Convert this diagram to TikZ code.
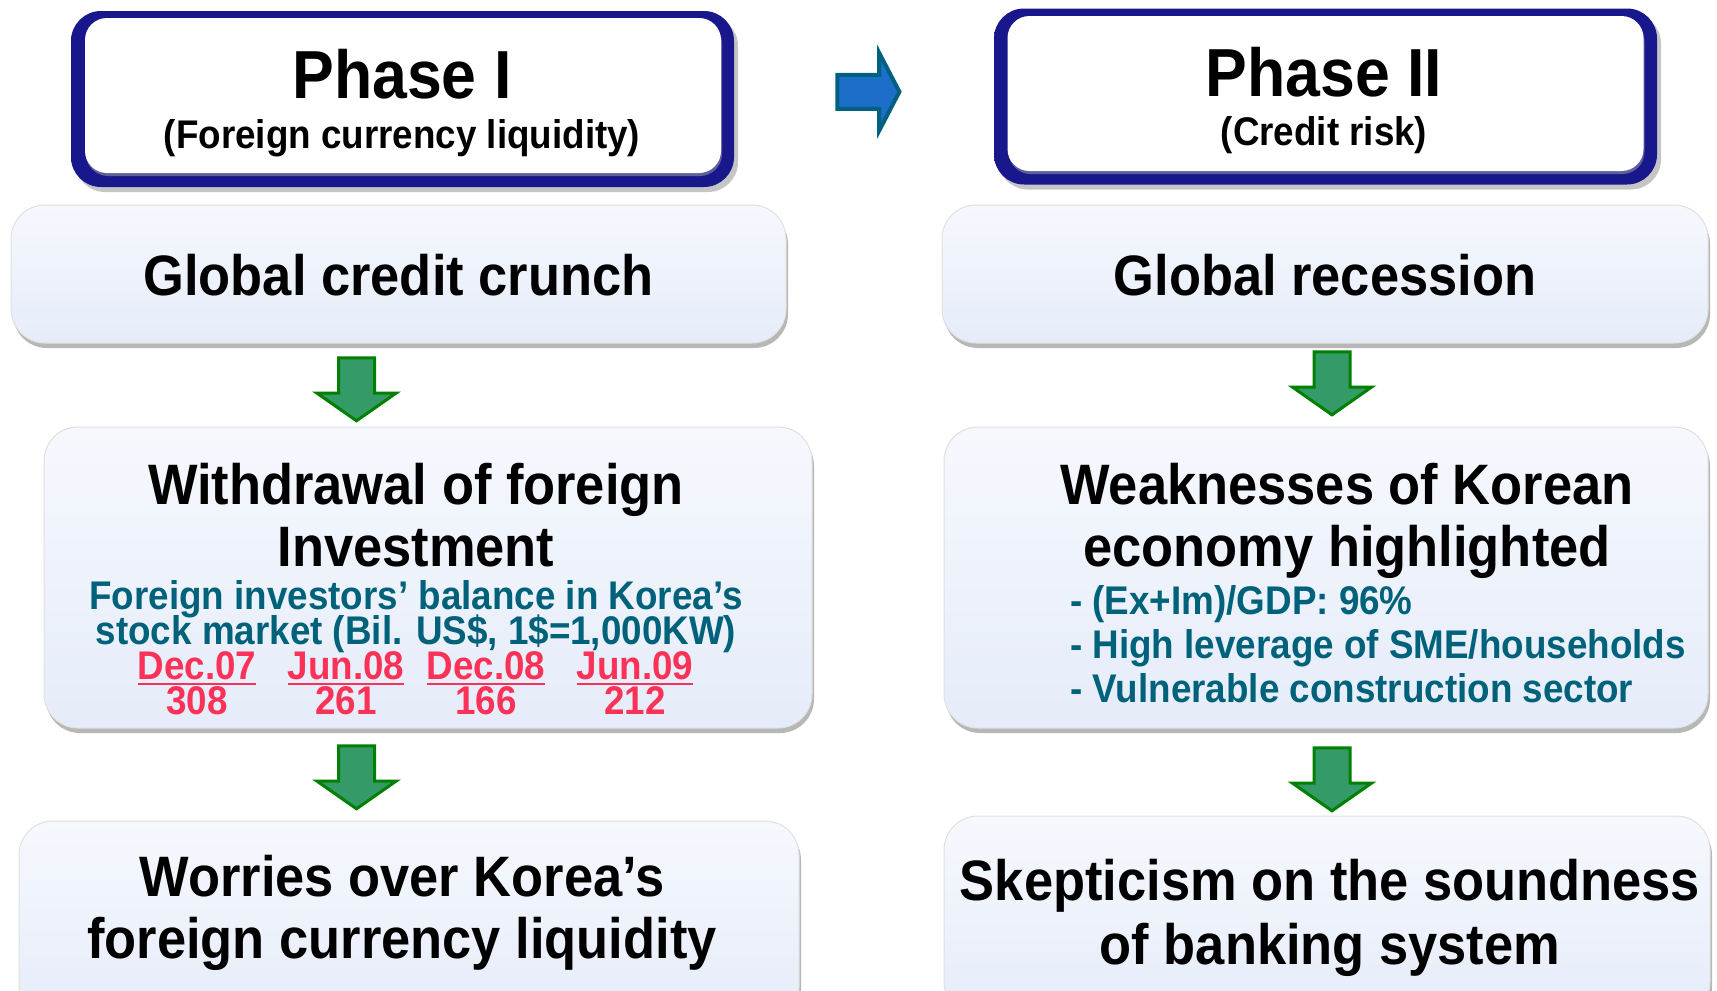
\documentclass[tikz,border=0pt]{standalone}
\usepackage{fontspec}
\setmainfont{Liberation Sans}[FakeStretch=0.92]
\usetikzlibrary{positioning, shapes.arrows, shadows, calc}

\definecolor{headnavy}{RGB}{24,24,140}
\definecolor{headlav}{RGB}{214,214,244}
\definecolor{boxtop}{RGB}{246,248,253}
\definecolor{boxblue}{RGB}{229,236,249}
\definecolor{noteteal}{RGB}{0,98,122}
\definecolor{datered}{RGB}{250,50,88}
\definecolor{flowgreen}{RGB}{0,128,0}
\definecolor{flowfill}{RGB}{52,154,104}
\definecolor{nextblue}{RGB}{28,110,200}
\definecolor{nextrim}{RGB}{0,96,128}

\newcommand{\dateline}[1]{\setbox0=\hbox{#1}\rlap{\rule[-6pt]{\wd0}{2.5pt}}\box0}

\begin{document}
\begin{tikzpicture}[
    x=1pt, y=-1pt,
    headframe/.style={rectangle, rounded corners=30pt, top color=headnavy, middle color=headlav, bottom color=headnavy, minimum width=663pt, minimum height=176pt, drop shadow={shadow xshift=4pt, shadow yshift=-5pt, fill=black!45}},
    headpanel/.style={rectangle, rounded corners=22pt, fill=white, minimum width=636pt, minimum height=155pt, drop shadow={shadow xshift=1pt, shadow yshift=-3pt, fill=black!35}},
    stagebox/.style={rectangle, rounded corners=34pt, top color=boxtop, bottom color=boxblue, draw=black!12, line width=1pt, drop shadow={shadow xshift=2pt, shadow yshift=-5pt, fill=black!40, opacity=0.7}},
    downflow/.style={single arrow, shape border rotate=270, draw=flowgreen, fill=flowfill, line width=3pt, inner sep=16.5pt, minimum width=76pt, minimum height=63pt, single arrow head extend=21.5pt, single arrow tip angle=110},
    nextflow/.style={single arrow, draw=nextrim, fill=nextblue, line width=4pt, inner sep=15pt, minimum width=74pt, minimum height=62pt, single arrow head extend=22pt, single arrow tip angle=125},
    txt/.style={anchor=base, inner sep=0pt},
    phasefont/.style={font=\fontsize{68}{72}\selectfont\bfseries},
    subfont/.style={font=\fontsize{40}{44}\selectfont\bfseries},
    bigfont/.style={font=\fontsize{57}{62}\selectfont\bfseries},
    notefont/.style={font=\fontsize{40}{44}\selectfont\bfseries, text=noteteal},
    datefont/.style={font=\fontsize{40}{44}\selectfont\bfseries, text=datered}
]
    \useasboundingbox (0,0) rectangle (1717,991);
    \clip (0,0) rectangle (1717,991);

    % phase headers
    \node[headframe] (phaseA) at (402.5,99) {};
    \node[headpanel] (phaseApanel) at (403,95.5) {};
    \node[txt, phasefont] (phaseAname) at (402,98) {Phase I};
    \node[txt, subfont] (phaseAsub) at (402,148) {(Foreign currency liquidity)};

    \node[headframe] (phaseB) at (1325.5,96.5) {};
    \node[headpanel] (phaseBpanel) at (1325.5,93.5) {};
    \node[txt, phasefont] (phaseBname) at (1324,96) {Phase II};
    \node[txt, subfont] (phaseBsub) at (1324,145) {(Credit risk)};

    \node[nextflow, yshift=6pt] (phaseshift) at ($(phaseA.east)!0.5!(phaseB.west)$) {};

    % phase I column
    \node[stagebox, bigfont, text height=44pt, minimum width=775pt, minimum height=138pt] (crunch) at (398.5,274) {Global credit crunch};
    \node[stagebox, minimum width=768pt, minimum height=301pt] (withdraw) at (428,577.5) {};
    \node[stagebox, minimum width=780pt, minimum height=200pt] (worries) at (409,921) {};

    \node[txt, bigfont] (withdrawA) at (416,504) {Withdrawal of foreign};
    \node[txt, bigfont] (withdrawB) at (416,566) {Investment};
    \node[txt, notefont] (balanceA) at (416,609) {Foreign investors’ balance in Korea’s};
    \node[txt, notefont] (balanceB) at (416,644) {stock market (Bil. US\$, 1\$=1,000KW)};
    \node[txt, datefont] (dateA) at (197,679) {\dateline{Dec.07}};
    \node[txt, datefont] (dateB) at (346,679) {\dateline{Jun.08}};
    \node[txt, datefont] (dateC) at (486,679) {\dateline{Dec.08}};
    \node[txt, datefont] (dateD) at (635,679) {\dateline{Jun.09}};
    \node[txt, datefont] (valA) at (197,714) {308};
    \node[txt, datefont] (valB) at (346,714) {261};
    \node[txt, datefont] (valC) at (486,714) {166};
    \node[txt, datefont] (valD) at (635,714) {212};

    \node[txt, bigfont] (worriesA) at (402,896) {Worries over Korea’s};
    \node[txt, bigfont] (worriesB) at (402,958) {foreign currency liquidity};

    \node[downflow] (flowA1) at (356.5,383) {};
    \node[downflow] (flowA2) at (356.5,771) {};

    % phase II column
    \node[stagebox, bigfont, text height=44pt, minimum width=766pt, minimum height=138pt] (recess) at (1325,274) {Global recession};
    \node[stagebox, minimum width=764pt, minimum height=301pt] (weak) at (1326,577.5) {};
    \node[stagebox, minimum width=766pt, minimum height=200pt] (skeptic) at (1327,916) {};

    \node[txt, bigfont] (weakA) at (1347,504) {Weaknesses of Korean};
    \node[txt, bigfont] (weakB) at (1347,566) {economy highlighted};
    \node[txt, notefont, anchor=base west] (pointA) at (1070,614) {- (Ex+Im)/GDP: 96\%};
    \node[txt, notefont, anchor=base west] (pointB) at (1070,658) {- High leverage of SME/households};
    \node[txt, notefont, anchor=base west] (pointC) at (1070,702) {- Vulnerable construction sector};

    \node[txt, bigfont] (skepticA) at (1330,900) {Skepticism on the soundness};
    \node[txt, bigfont] (skepticB) at (1330,964) {of banking system};

    \node[downflow] (flowB1) at (1332,377) {};
    \node[downflow] (flowB2) at (1332,773) {};
\end{tikzpicture}
\end{document}
